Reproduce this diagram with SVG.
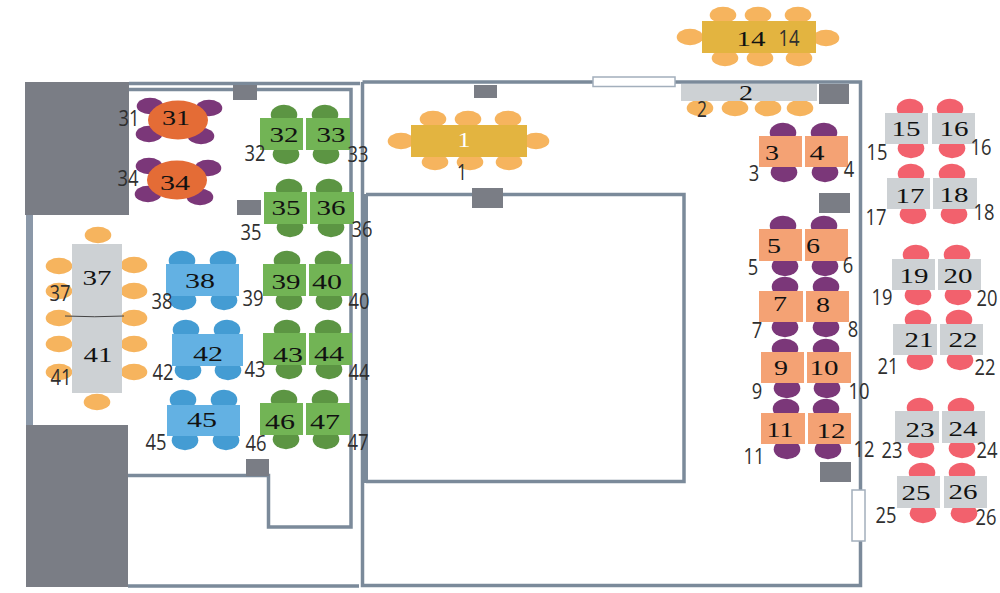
<svg xmlns="http://www.w3.org/2000/svg" width="1000" height="593" viewBox="0 0 1000 593">
<style>
.w{fill:none;stroke:#7b8a9a;stroke-width:3.500}
.c{fill:#7a7d85}
.win{fill:#fff;stroke:#a3afbc;stroke-width:1.500}
ellipse{rx:13.300px;ry:8.300px}
.p ellipse{ry:10px}
.p ellipse:first-child{transform:translateY(1.700px)}
.p ellipse:last-child{transform:translateY(-1.700px)}
.q ellipse{ry:10px}
.q ellipse:nth-child(-n+2){transform:translateY(1.700px)}
.q ellipse:nth-child(n+3){transform:translateY(-1.700px)}
.co{fill:#f6b45e}.cp{fill:#7b3779}.cr{fill:#f2616d}.cg{fill:#5c9543}.cb{fill:#449cd3}
.to{fill:#f4a274}.tg{fill:#cdd1d4}.tn{fill:#72b455}.tb{fill:#63b1e3}.ty{fill:#e3b440}
ellipse.rt{fill:#e46c36;rx:30px;ry:19.500px}
text{text-anchor:middle}
.i{font-family:"Liberation Serif",serif;font-size:22px;fill:#111}
.o{font-family:"Open Sans",sans-serif;font-size:22px;fill:#2f2f2f}
</style>
<rect width="1000" height="593" fill="#fff"/>
<g id="plan">
<rect x="25" y="82" width="104" height="133" fill="#7a7d85"/>
<rect x="26" y="425" width="102" height="162" fill="#7a7d85"/>
<rect x="26" y="215" width="7" height="210" fill="#8b98a8"/>
<path class="w" d="M129 83.500H360M129 89.500H351V527H268.500V475.500H128M128 586H359"/>
<path class="w" d="M362.500 82V585.500H860.500V82H362.500"/>
<path class="w" d="M366 481.500H684V194.500H366"/>
<rect x="362" y="194" width="6" height="289" fill="#7b8a9a"/>
<rect class="c" x="233" y="85" width="24" height="15"/>
<rect class="c" x="237" y="200" width="24" height="15"/>
<rect class="c" x="246" y="459" width="23" height="17"/>
<rect class="c" x="474" y="85" width="23" height="13"/>
<rect class="c" x="472" y="188" width="31" height="20"/>
<rect class="c" x="819" y="84" width="30" height="20"/>
<rect class="c" x="819" y="193" width="31" height="20"/>
<rect class="c" x="820" y="462" width="31" height="20"/>
<rect class="win" x="593" y="77" width="82" height="9.500"/>
<rect class="win" x="852" y="490" width="13" height="51"/>
</g>
<g id="n1"><g class="co"><ellipse cx="433" cy="119"/><ellipse cx="468" cy="119"/><ellipse cx="508" cy="119"/><ellipse cx="435" cy="162"/><ellipse cx="470" cy="162"/><ellipse cx="509" cy="162"/><ellipse cx="401" cy="141"/><ellipse cx="536" cy="141"/></g><rect class="ty" x="411" y="125" width="116" height="32"/><text class="i" style="fill:#fff" x="464" y="146.500" textLength="13" lengthAdjust="spacingAndGlyphs">1</text><text class="o" x="462" y="180" textLength="10" lengthAdjust="spacingAndGlyphs">1</text></g>
<g id="n2"><g class="co"><ellipse cx="700" cy="108"/><ellipse cx="735" cy="108"/><ellipse cx="768" cy="108"/><ellipse cx="800" cy="108"/></g><rect class="tg" x="681" y="84" width="136" height="17"/><text class="i" x="746" y="99.500" textLength="14" lengthAdjust="spacingAndGlyphs">2</text><text class="o" x="702" y="117" textLength="10" lengthAdjust="spacingAndGlyphs">2</text></g>
<g id="n14"><g class="co"><ellipse cx="723" cy="15"/><ellipse cx="758" cy="15"/><ellipse cx="798" cy="15"/><ellipse cx="725" cy="58"/><ellipse cx="760" cy="58"/><ellipse cx="799" cy="58"/><ellipse cx="690" cy="37"/><ellipse cx="826" cy="38"/></g><rect class="ty" x="702" y="21" width="114" height="32"/><text class="i" x="751" y="45.500" textLength="29" lengthAdjust="spacingAndGlyphs">14</text><text class="o" x="789" y="46" textLength="21" lengthAdjust="spacingAndGlyphs">14</text></g>
<g id="n3"><g class="cp p"><ellipse cx="783" cy="131"/><ellipse cx="784" cy="174"/></g><rect class="to" x="759" y="136" width="43" height="31"/><text class="i" x="772" y="159.500" textLength="14" lengthAdjust="spacingAndGlyphs">3</text><text class="o" x="754" y="181" textLength="10.500" lengthAdjust="spacingAndGlyphs">3</text></g>
<g id="n4"><g class="cp p"><ellipse cx="824" cy="131"/><ellipse cx="825" cy="174"/></g><rect class="to" x="805" y="136" width="43" height="31"/><text class="i" x="817" y="159.500" textLength="15" lengthAdjust="spacingAndGlyphs">4</text><text class="o" x="849" y="177" textLength="10.500" lengthAdjust="spacingAndGlyphs">4</text></g>
<g id="n5"><g class="cp p"><ellipse cx="783" cy="224"/><ellipse cx="785" cy="268"/></g><rect class="to" x="759" y="229" width="43" height="32"/><text class="i" x="774" y="252.500" textLength="14" lengthAdjust="spacingAndGlyphs">5</text><text class="o" x="753" y="275" textLength="10.500" lengthAdjust="spacingAndGlyphs">5</text></g>
<g id="n6"><g class="cp p"><ellipse cx="824" cy="224"/><ellipse cx="825" cy="268"/></g><rect class="to" x="805" y="229" width="43" height="32"/><text class="i" x="813" y="252.500" textLength="14" lengthAdjust="spacingAndGlyphs">6</text><text class="o" x="848" y="273" textLength="10.500" lengthAdjust="spacingAndGlyphs">6</text></g>
<g id="n7"><g class="cp p"><ellipse cx="785" cy="285"/><ellipse cx="785" cy="329"/></g><rect class="to" x="759" y="291" width="44" height="31"/><text class="i" x="780" y="311" textLength="14" lengthAdjust="spacingAndGlyphs">7</text><text class="o" x="757" y="338" textLength="10.500" lengthAdjust="spacingAndGlyphs">7</text></g>
<g id="n8"><g class="cp p"><ellipse cx="826" cy="285"/><ellipse cx="826" cy="329"/></g><rect class="to" x="806" y="291" width="43" height="31"/><text class="i" x="823" y="311.500" textLength="14" lengthAdjust="spacingAndGlyphs">8</text><text class="o" x="853" y="337" textLength="10.500" lengthAdjust="spacingAndGlyphs">8</text></g>
<g id="n9"><g class="cp p"><ellipse cx="785" cy="347"/><ellipse cx="787" cy="390"/></g><rect class="to" x="761" y="352" width="43" height="31"/><text class="i" x="781" y="374.500" textLength="14" lengthAdjust="spacingAndGlyphs">9</text><text class="o" x="757" y="399" textLength="10.500" lengthAdjust="spacingAndGlyphs">9</text></g>
<g id="n10"><g class="cp p"><ellipse cx="826" cy="347"/><ellipse cx="827" cy="390"/></g><rect class="to" x="807" y="352" width="44" height="31"/><text class="i" x="824" y="374.500" textLength="29" lengthAdjust="spacingAndGlyphs">10</text><text class="o" x="859" y="399" textLength="21" lengthAdjust="spacingAndGlyphs">10</text></g>
<g id="n11"><g class="cp p"><ellipse cx="786" cy="407"/><ellipse cx="787" cy="451"/></g><rect class="to" x="761" y="413" width="44" height="31"/><text class="i" x="780" y="436.500" textLength="27" lengthAdjust="spacingAndGlyphs">11</text><text class="o" x="754" y="464" textLength="21" lengthAdjust="spacingAndGlyphs">11</text></g>
<g id="n12"><g class="cp p"><ellipse cx="826" cy="407"/><ellipse cx="828" cy="451"/></g><rect class="to" x="808" y="413" width="43" height="31"/><text class="i" x="831" y="437.500" textLength="29" lengthAdjust="spacingAndGlyphs">12</text><text class="o" x="864" y="457" textLength="21" lengthAdjust="spacingAndGlyphs">12</text></g>
<g id="n15"><g class="cr p"><ellipse cx="910" cy="107"/><ellipse cx="911" cy="150"/></g><rect class="tg" x="885" y="113" width="43" height="31"/><text class="i" x="906" y="135.500" textLength="29" lengthAdjust="spacingAndGlyphs">15</text><text class="o" x="877" y="160" textLength="21" lengthAdjust="spacingAndGlyphs">15</text></g>
<g id="n16"><g class="cr p"><ellipse cx="950" cy="107"/><ellipse cx="952" cy="150"/></g><rect class="tg" x="932" y="113" width="43" height="31"/><text class="i" x="954" y="135.500" textLength="29" lengthAdjust="spacingAndGlyphs">16</text><text class="o" x="981" y="155" textLength="21" lengthAdjust="spacingAndGlyphs">16</text></g>
<g id="n17"><g class="cr p"><ellipse cx="911" cy="172"/><ellipse cx="913" cy="216"/></g><rect class="tg" x="887" y="178" width="43" height="31"/><text class="i" x="910" y="202.500" textLength="29" lengthAdjust="spacingAndGlyphs">17</text><text class="o" x="876" y="225" textLength="21" lengthAdjust="spacingAndGlyphs">17</text></g>
<g id="n18"><g class="cr p"><ellipse cx="952" cy="172"/><ellipse cx="954" cy="216"/></g><rect class="tg" x="933" y="178" width="44" height="31"/><text class="i" x="954" y="201.500" textLength="29" lengthAdjust="spacingAndGlyphs">18</text><text class="o" x="984" y="220" textLength="21" lengthAdjust="spacingAndGlyphs">18</text></g>
<g id="n19"><g class="cr p"><ellipse cx="916" cy="253"/><ellipse cx="918" cy="297"/></g><rect class="tg" x="892" y="259" width="43" height="31"/><text class="i" x="914" y="282.500" textLength="29" lengthAdjust="spacingAndGlyphs">19</text><text class="o" x="882" y="305" textLength="21" lengthAdjust="spacingAndGlyphs">19</text></g>
<g id="n20"><g class="cr p"><ellipse cx="957" cy="253"/><ellipse cx="958" cy="297"/></g><rect class="tg" x="938" y="259" width="43" height="31"/><text class="i" x="958" y="282.500" textLength="29" lengthAdjust="spacingAndGlyphs">20</text><text class="o" x="987" y="306" textLength="21" lengthAdjust="spacingAndGlyphs">20</text></g>
<g id="n21"><g class="cr p"><ellipse cx="918" cy="318"/><ellipse cx="920" cy="362"/></g><rect class="tg" x="893" y="324" width="44" height="31"/><text class="i" x="919" y="346.500" textLength="29" lengthAdjust="spacingAndGlyphs">21</text><text class="o" x="888" y="374" textLength="21" lengthAdjust="spacingAndGlyphs">21</text></g>
<g id="n22"><g class="cr p"><ellipse cx="959" cy="318"/><ellipse cx="960" cy="362"/></g><rect class="tg" x="940" y="324" width="43" height="31"/><text class="i" x="963" y="346.500" textLength="29" lengthAdjust="spacingAndGlyphs">22</text><text class="o" x="985" y="375" textLength="21" lengthAdjust="spacingAndGlyphs">22</text></g>
<g id="n23"><g class="cr p"><ellipse cx="920" cy="406"/><ellipse cx="921" cy="450"/></g><rect class="tg" x="895" y="411" width="44" height="32"/><text class="i" x="920" y="436.500" textLength="29" lengthAdjust="spacingAndGlyphs">23</text><text class="o" x="892" y="458" textLength="21" lengthAdjust="spacingAndGlyphs">23</text></g>
<g id="n24"><g class="cr p"><ellipse cx="961" cy="406"/><ellipse cx="962" cy="450"/></g><rect class="tg" x="942" y="411" width="43" height="32"/><text class="i" x="963" y="435.500" textLength="29" lengthAdjust="spacingAndGlyphs">24</text><text class="o" x="987" y="458" textLength="21" lengthAdjust="spacingAndGlyphs">24</text></g>
<g id="n25"><g class="cr p"><ellipse cx="922" cy="471"/><ellipse cx="923" cy="515"/></g><rect class="tg" x="897" y="476" width="43" height="32"/><text class="i" x="916" y="499.500" textLength="29" lengthAdjust="spacingAndGlyphs">25</text><text class="o" x="886" y="523" textLength="21" lengthAdjust="spacingAndGlyphs">25</text></g>
<g id="n26"><g class="cr p"><ellipse cx="962" cy="471"/><ellipse cx="964" cy="515"/></g><rect class="tg" x="944" y="476" width="43" height="32"/><text class="i" x="963" y="498.500" textLength="29" lengthAdjust="spacingAndGlyphs">26</text><text class="o" x="986" y="525" textLength="21" lengthAdjust="spacingAndGlyphs">26</text></g>
<g id="n31"><g class="cp"><ellipse cx="150" cy="106"/><ellipse cx="209" cy="108"/><ellipse cx="149" cy="134"/><ellipse cx="201" cy="136"/></g><ellipse class="rt" cx="178" cy="120"/><text class="i" x="176" y="124.500" textLength="28" lengthAdjust="spacingAndGlyphs">31</text><text class="o" x="129" y="126" textLength="21" lengthAdjust="spacingAndGlyphs">31</text></g>
<g id="n34"><g class="cp"><ellipse cx="149" cy="166"/><ellipse cx="208" cy="168"/><ellipse cx="148" cy="194"/><ellipse cx="200" cy="197"/></g><ellipse class="rt" cx="177" cy="180"/><text class="i" x="175" y="189.500" textLength="30" lengthAdjust="spacingAndGlyphs">34</text><text class="o" x="128" y="186" textLength="21" lengthAdjust="spacingAndGlyphs">34</text></g>
<g id="n32"><g class="cg p"><ellipse cx="284" cy="113"/><ellipse cx="286" cy="156"/></g><rect class="tn" x="260" y="118" width="43" height="32"/><text class="i" x="284" y="141.500" textLength="29" lengthAdjust="spacingAndGlyphs">32</text><text class="o" x="255" y="161" textLength="21" lengthAdjust="spacingAndGlyphs">32</text></g>
<g id="n33"><g class="cg p"><ellipse cx="325" cy="113"/><ellipse cx="326" cy="156"/></g><rect class="tn" x="306" y="118" width="44" height="32"/><text class="i" x="331" y="141.500" textLength="29" lengthAdjust="spacingAndGlyphs">33</text><text class="o" x="358" y="162" textLength="21" lengthAdjust="spacingAndGlyphs">33</text></g>
<g id="n35"><g class="cg p"><ellipse cx="289" cy="187"/><ellipse cx="290" cy="229"/></g><rect class="tn" x="264" y="192" width="43" height="32"/><text class="i" x="286" y="214.500" textLength="29" lengthAdjust="spacingAndGlyphs">35</text><text class="o" x="251" y="240" textLength="21" lengthAdjust="spacingAndGlyphs">35</text></g>
<g id="n36"><g class="cg p"><ellipse cx="329" cy="187"/><ellipse cx="331" cy="229"/></g><rect class="tn" x="310" y="192" width="44" height="32"/><text class="i" x="331" y="214.500" textLength="29" lengthAdjust="spacingAndGlyphs">36</text><text class="o" x="362" y="237" textLength="21" lengthAdjust="spacingAndGlyphs">36</text></g>
<g id="n37"><g class="co"><ellipse cx="98" cy="235"/><ellipse cx="59" cy="266"/><ellipse cx="59" cy="291"/><ellipse cx="59" cy="318"/><ellipse cx="134" cy="265"/><ellipse cx="134" cy="291"/><ellipse cx="134" cy="318"/></g><rect class="tg" x="72" y="244" width="50" height="72"/><text class="i" x="97" y="284.500" textLength="29" lengthAdjust="spacingAndGlyphs">37</text><text class="o" x="60" y="301" textLength="21" lengthAdjust="spacingAndGlyphs">37</text></g>
<g id="n41"><g class="co"><ellipse cx="97" cy="402"/><ellipse cx="59" cy="344"/><ellipse cx="59" cy="372"/><ellipse cx="134" cy="344"/><ellipse cx="134" cy="372"/></g><rect class="tg" x="72" y="316" width="50" height="77"/><path d="M65 316Q95 317.500 124 316" fill="none" stroke="#444" stroke-width="1"/><text class="i" x="98" y="361.500" textLength="29" lengthAdjust="spacingAndGlyphs">41</text><text class="o" x="61" y="385" textLength="21" lengthAdjust="spacingAndGlyphs">41</text></g>
<g id="n38"><g class="cb q"><ellipse cx="182" cy="259"/><ellipse cx="223" cy="259"/><ellipse cx="183" cy="302"/><ellipse cx="224" cy="302"/></g><rect class="tb" x="166" y="264" width="73" height="32"/><text class="i" x="200" y="287.500" textLength="30" lengthAdjust="spacingAndGlyphs">38</text><text class="o" x="162" y="309" textLength="21" lengthAdjust="spacingAndGlyphs">38</text></g>
<g id="n39"><g class="cg p"><ellipse cx="287" cy="259"/><ellipse cx="289" cy="302"/></g><rect class="tn" x="263" y="264" width="43" height="32"/><text class="i" x="286" y="288.500" textLength="29" lengthAdjust="spacingAndGlyphs">39</text><text class="o" x="253" y="306" textLength="21" lengthAdjust="spacingAndGlyphs">39</text></g>
<g id="n40"><g class="cg p"><ellipse cx="328" cy="259"/><ellipse cx="329" cy="302"/></g><rect class="tn" x="309" y="264" width="43" height="32"/><text class="i" x="327" y="288.500" textLength="30" lengthAdjust="spacingAndGlyphs">40</text><text class="o" x="359" y="309" textLength="21" lengthAdjust="spacingAndGlyphs">40</text></g>
<g id="n42"><g class="cb q"><ellipse cx="186" cy="328"/><ellipse cx="227" cy="328"/><ellipse cx="188" cy="372"/><ellipse cx="228" cy="372"/></g><rect class="tb" x="172" y="334" width="71" height="32"/><text class="i" x="208" y="360.500" textLength="30" lengthAdjust="spacingAndGlyphs">42</text><text class="o" x="163" y="380" textLength="21" lengthAdjust="spacingAndGlyphs">42</text></g>
<g id="n43"><g class="cg p"><ellipse cx="287" cy="328"/><ellipse cx="289" cy="371"/></g><rect class="tn" x="263" y="333" width="43" height="32"/><text class="i" x="288" y="361.500" textLength="30" lengthAdjust="spacingAndGlyphs">43</text><text class="o" x="255" y="377" textLength="21" lengthAdjust="spacingAndGlyphs">43</text></g>
<g id="n44"><g class="cg p"><ellipse cx="328" cy="328"/><ellipse cx="329" cy="371"/></g><rect class="tn" x="309" y="333" width="43" height="32"/><text class="i" x="329" y="360.500" textLength="30" lengthAdjust="spacingAndGlyphs">44</text><text class="o" x="359" y="380" textLength="21" lengthAdjust="spacingAndGlyphs">44</text></g>
<g id="n45"><g class="cb q"><ellipse cx="183" cy="398"/><ellipse cx="224" cy="398"/><ellipse cx="185" cy="442"/><ellipse cx="226" cy="442"/></g><rect class="tb" x="167" y="405" width="73" height="31"/><text class="i" x="202" y="426.500" textLength="30" lengthAdjust="spacingAndGlyphs">45</text><text class="o" x="156" y="450" textLength="21" lengthAdjust="spacingAndGlyphs">45</text></g>
<g id="n46"><g class="cg p"><ellipse cx="284" cy="398"/><ellipse cx="286" cy="441"/></g><rect class="tn" x="260" y="403" width="43" height="32"/><text class="i" x="280" y="428.500" textLength="30" lengthAdjust="spacingAndGlyphs">46</text><text class="o" x="256" y="451" textLength="21" lengthAdjust="spacingAndGlyphs">46</text></g>
<g id="n47"><g class="cg p"><ellipse cx="325" cy="398"/><ellipse cx="326" cy="441"/></g><rect class="tn" x="306" y="403" width="44" height="32"/><text class="i" x="325" y="428.500" textLength="30" lengthAdjust="spacingAndGlyphs">47</text><text class="o" x="358" y="450" textLength="21" lengthAdjust="spacingAndGlyphs">47</text></g>
</svg>
